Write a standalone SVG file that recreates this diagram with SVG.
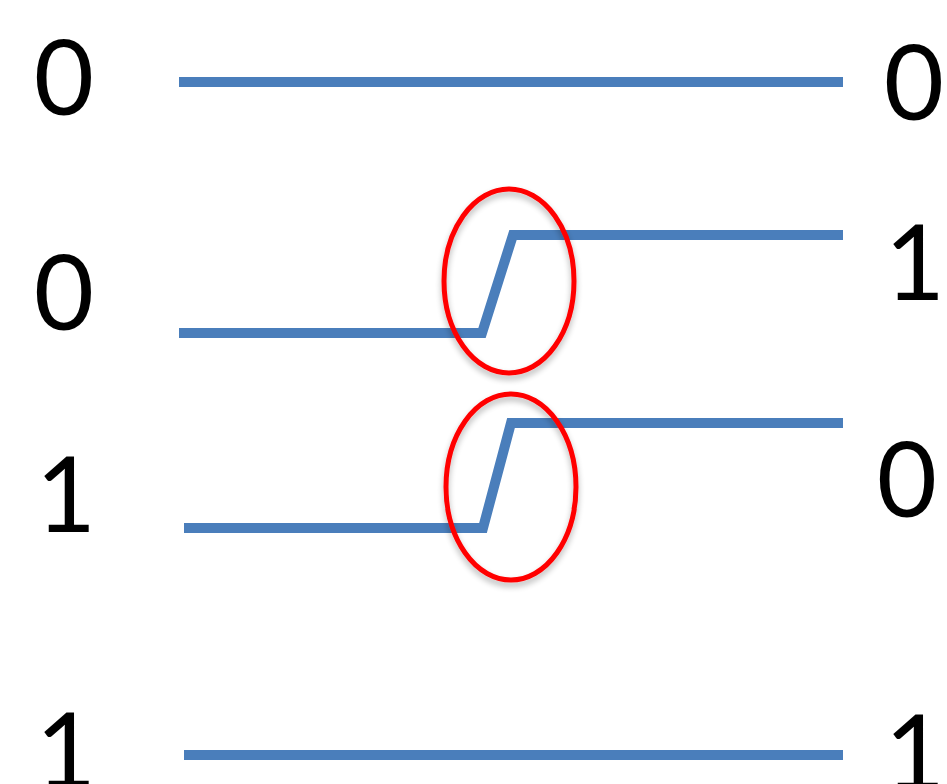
<svg xmlns="http://www.w3.org/2000/svg" width="947" height="784" viewBox="0 0 947 784">
  <style>
    .bit { font-family: Lato, "Liberation Sans", sans-serif; font-size: 104px; fill: #000; text-anchor: middle; }
    .wire { fill: none; stroke: #4A7EBB; stroke-width: 10; stroke-linejoin: miter; stroke-linecap: butt; }
    .mark { fill: none; stroke: #FF0000; stroke-width: 5; }
  </style>
  <defs>
    <filter id="shadow" x="-20%" y="-20%" width="140%" height="140%">
      <feGaussianBlur in="SourceAlpha" stdDeviation="3"/>
      <feOffset dx="0" dy="4" result="b"/>
      <feComponentTransfer><feFuncA type="linear" slope="0.3"/></feComponentTransfer>
      <feMerge><feMergeNode/><feMergeNode in="SourceGraphic"/></feMerge>
    </filter>
  </defs>
  <rect width="947" height="784" fill="#fff"/>

  <g id="inputs">
    <text class="bit" x="64" y="115">0</text>
    <text class="bit" x="64" y="330">0</text>
    <text class="bit" x="66" y="532">1</text>
    <text class="bit" x="66" y="788">1</text>
  </g>

  <g id="outputs">
    <text class="bit" x="914" y="120">0</text>
    <text class="bit" x="915" y="300">1</text>
    <text class="bit" x="907" y="517">0</text>
    <text class="bit" x="915" y="790">1</text>
  </g>

  <g id="connectors">
    <path class="wire" d="M179 82 H843"/>
    <path class="wire" d="M179 333 H482 L513 235 H843"/>
    <path class="wire" d="M184 528 H483 L511 423 H843"/>
    <path class="wire" d="M184 755 H843"/>
  </g>

  <g id="highlights" filter="url(#shadow)">
    <ellipse class="mark" cx="509" cy="281" rx="65" ry="92"/>
    <ellipse class="mark" cx="511" cy="487" rx="65" ry="93"/>
  </g>
</svg>
